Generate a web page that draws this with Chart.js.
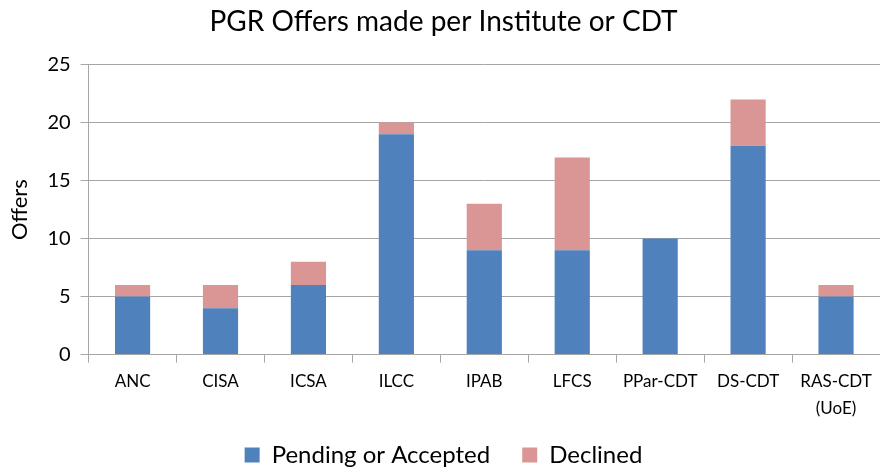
<!DOCTYPE html>
<html><head><meta charset="utf-8">
<script src="https://cdn.jsdelivr.net/npm/chart.js@4/dist/chart.umd.min.js"></script>
<style>html,body{margin:0;padding:0;background:#fff}#wrap{width:880px;height:468px}</style>
</head><body><div id="wrap"><canvas id="c" width="880" height="468"></canvas></div>
<script>
const categories = ["ANC","CISA","ICSA","ILCC","IPAB","LFCS","PPar-CDT","DS-CDT",["RAS-CDT","(UoE)"]];
const pendingOrAccepted = [5,4,6,19,9,9,10,18,5];
const declined = [1,2,2,1,4,8,0,4,1];
const yTicks = [0,5,10,15,20,25];
const FONT = "Lato, 'Open Sans', sans-serif";
const legendHeightFix = {
  id: 'legendHeightFix',
  beforeLayout(chart) {
    const lg = chart.legend;
    if (lg && !lg._patched) {
      const f = lg.fit.bind(lg);
      lg.fit = function () { f(); this.height = 41; };
      lg._patched = true;
    }
  },
  afterLayout(chart) {
    const lg = chart.legend;
    if (lg) {
      lg.top -= 16;
      lg.bottom = chart.height;
      lg.height = lg.bottom - lg.top;
    }
  }
};
new Chart(document.getElementById('c'), {
  type: 'bar',
  data: {
    labels: categories,
    datasets: [
      {label: 'Pending or Accepted', data: pendingOrAccepted, backgroundColor: '#4F81BD', barPercentage: 0.4, categoryPercentage: 1},
      {label: 'Declined', data: declined, backgroundColor: '#D99694', barPercentage: 0.4, categoryPercentage: 1}
    ]
  },
  plugins: [legendHeightFix],
  options: {
    responsive: false, animation: false,
    layout: {padding: {left: 3, right: -4, top: 0, bottom: 0}},
    plugins: {
      title: {display: true, text: 'PGR Offers made per Institute or CDT', color: '#000', font: {family: FONT, size: 28, weight: 'normal'}, padding: {top: 5, bottom: 26}},
      legend: {position: 'bottom', labels: {color: '#000', font: {family: FONT, size: 24}, boxWidth: 15, boxHeight: 15, padding: 32}},
      tooltip: {enabled: false}
    },
    scales: {
      x: {stacked: true,
        grid: {drawOnChartArea: false, drawTicks: true, tickLength: 8, color: '#a6a6a6', offset: true},
        border: {color: '#a6a6a6'},
        ticks: {color: '#000', font: {family: FONT, size: 17, lineHeight: 1.6}, padding: 5, maxRotation: 0, autoSkip: false}
      },
      y: {stacked: true, min: 0, max: 25,
        afterBuildTicks: a => { a.ticks = yTicks.map(v => ({value: v})); },
        grid: {color: '#a6a6a6', tickLength: 8},
        border: {color: '#a6a6a6'},
        title: {display: true, text: 'Offers', color: '#000', font: {family: FONT, size: 22}, padding: {bottom: 4}},
        ticks: {color: '#000', font: {family: FONT, size: 20}, padding: 10}
      }
    }
  }
});
</script></body></html>
